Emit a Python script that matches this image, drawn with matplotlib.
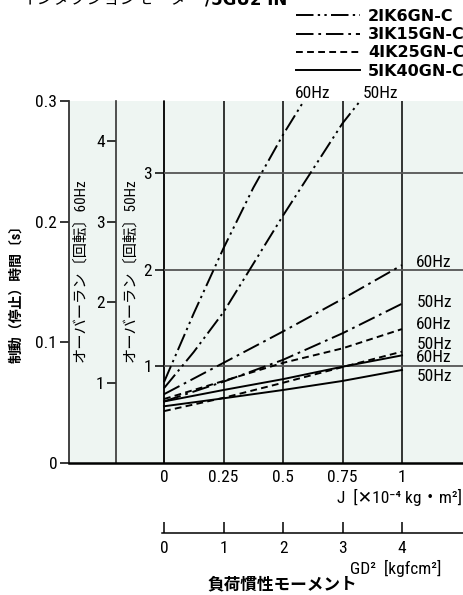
import matplotlib
matplotlib.use('Agg')
from matplotlib import pyplot as plt
from matplotlib import font_manager as fm

# pick a condensed sans if one is installed
fonts = fm.fontManager.ttflist
names = {f.name for f in fonts}
stretch = 'normal'
if 'Liberation Sans Narrow' in names:
    base = 'Liberation Sans Narrow'
elif 'Roboto Condensed' in names:
    base = 'Roboto Condensed'
elif any(f.name == 'DejaVu Sans' and str(f.stretch) in ('condensed', 'semi-condensed') for f in fonts):
    base = 'DejaVu Sans'
    stretch = 'condensed'
else:
    base = 'Roboto'
plt.rcParams['font.family'] = [base, 'Noto Sans CJK JP', 'DejaVu Sans']
plt.rcParams['font.stretch'] = stretch

# axis ticks
J_ticks = [0, 0.25, 0.5, 0.75, 1]
J_ticklabels = ['0', '0.25', '0.5', '0.75', '1']
GD_ticks = [0, 1, 2, 3, 4]
GD_ticklabels = ['0', '1', '2', '3', '4']
t_ticks = [0, 0.1, 0.2, 0.3]
t_ticklabels = ['0', '0.1', '0.2', '0.3']
rev60_ticks = [1, 2, 3, 4]
rev50_ticks = [1, 2, 3]

# stop time [s] vs load inertia J [x1e-4 kg m2]
j_2ik6_60 = [0, 0.125, 0.25, 0.375, 0.5, 0.625]
t_2ik6_60 = [0.067, 0.124, 0.178, 0.228, 0.272, 0.312]
j_2ik6_50 = [0, 0.125, 0.25, 0.5, 0.75, 0.9]
t_2ik6_50 = [0.062, 0.092, 0.125, 0.205, 0.2815, 0.319]
j_std = [0, 0.25, 0.5, 0.75, 1]
t_3ik15_60 = [0.057, 0.083, 0.109, 0.136, 0.164]
t_3ik15_50 = [0.051, 0.0674, 0.0855, 0.1075, 0.132]
t_4ik25_60 = [0.053, 0.068, 0.083, 0.095, 0.111]
t_4ik25_50 = [0.043, 0.054, 0.0665, 0.0795, 0.0923]
t_5ik40_60 = [0.051, 0.0605, 0.0695, 0.0798, 0.0892]
t_5ik40_50 = [0.047, 0.0536, 0.0605, 0.068, 0.0771]

models = ['2IK6GN-C', '3IK15GN-C', '4IK25GN-C', '5IK40GN-C']
styles = {
    '2IK6GN-C': (0, (9, 2.2, 1.2, 2.2, 1.2, 2.2)),
    '3IK15GN-C': (0, (9, 2.5, 1.4, 2.5)),
    '4IK25GN-C': (0, (3.5, 2.2)),
    '5IK40GN-C': '-',
}

# right side frequency labels: (text, y in s)
right_labels = [('60Hz', 0.1665), ('50Hz', 0.133), ('60Hz', 0.1148), ('50Hz', 0.0985),
                ('60Hz', 0.0875), ('50Hz', 0.0716)]

W, H = 464, 595
fs = 12.5
fig = plt.figure(figsize=(W / 100, H / 100), dpi=100)
ax = fig.add_axes([69 / W, 1 - 463 / H, 395 / W, 362 / H])
xmin, xmax = -95 / 238, 300 / 238
ax.set_xlim(xmin, xmax)
ax.set_ylim(0, 0.3)
ax.set_facecolor('#eef5f2')
for s in ['top', 'right']:
    ax.spines[s].set_visible(False)
ax.spines['left'].set_linewidth(1.3)
ax.spines['left'].set_color('#333333')
ax.spines['bottom'].set_linewidth(1.8)

ax.set_yticks(t_ticks)
ax.set_yticklabels(t_ticklabels)
ax.set_xticks(J_ticks)
ax.set_xticklabels(J_ticklabels)
ax.tick_params(axis='y', length=6.5, width=1.1, labelsize=fs, pad=2)
ax.tick_params(axis='x', length=0, labelsize=fs, pad=5)

# grid
ax.vlines(J_ticks, 0, 0.3, color='black', lw=1.1, zorder=1)
ax.hlines([r / 12.5 for r in rev50_ticks], 0, xmax, color='#555555', lw=1.3, zorder=1)

# overrun axes
def frac(j):
    return (j - xmin) / (xmax - xmin)

sec60 = ax.secondary_yaxis(frac(-0.2), functions=(lambda t: t * 15, lambda r: r / 15))
sec50 = ax.secondary_yaxis(frac(0), functions=(lambda t: t * 12.5, lambda r: r / 12.5))
for sec, ticks in [(sec60, rev60_ticks), (sec50, rev50_ticks)]:
    sec.set_yticks(ticks)
    sec.set_yticklabels([str(v) for v in ticks])
    sec.tick_params(length=6.5, width=1.1, labelsize=fs, pad=2)
    sec.spines['left'].set_linewidth(1.2)
    sec.spines['left'].set_color('#333333')

ax.text(-0.353, 0.16, 'オーバーラン〔回転〕60Hz', rotation=90, ha='center', va='center', fontsize=11)
ax.text(-0.143, 0.16, 'オーバーラン〔回転〕50Hz', rotation=90, ha='center', va='center', fontsize=11)

ax.set_ylabel('制動（停止）時間〔s〕', fontsize=10, fontweight='bold')
ax.yaxis.set_label_coords(-0.117, 0.478)

# curves
lw = 1.4
h1, = ax.plot(j_2ik6_60, t_2ik6_60, color='black', lw=lw, linestyle=styles['2IK6GN-C'], label=models[0])
ax.plot(j_2ik6_50, t_2ik6_50, color='black', lw=lw, linestyle=styles['2IK6GN-C'])
h2, = ax.plot(j_std, t_3ik15_60, color='black', lw=lw, linestyle=styles['3IK15GN-C'], label=models[1])
ax.plot(j_std, t_3ik15_50, color='black', lw=lw, linestyle=styles['3IK15GN-C'])
h3, = ax.plot(j_std, t_4ik25_60, color='black', lw=lw, linestyle=styles['4IK25GN-C'], label=models[2])
ax.plot(j_std, t_4ik25_50, color='black', lw=lw, linestyle=styles['4IK25GN-C'])
h4, = ax.plot(j_std, t_5ik40_60, color='black', lw=lw, linestyle=styles['5IK40GN-C'], label=models[3])
ax.plot(j_std, t_5ik40_50, color='black', lw=lw, linestyle=styles['5IK40GN-C'])

for txt, y in right_labels:
    ax.text(1.06, y, txt, fontsize=fs, va='center', ha='left')
ax.text(0.624, 0.3066, '60Hz', fontsize=fs, ha='center', va='center', clip_on=False)
ax.text(0.908, 0.3066, '50Hz', fontsize=fs, ha='center', va='center', clip_on=False)

fig.legend(handles=[h1, h2, h3, h4], loc='upper right', bbox_to_anchor=(465 / W, 1 - 9 / H),
           frameon=False, handlelength=4.0, handletextpad=0.5, labelspacing=0.2, borderpad=0,
           borderaxespad=0, prop=dict(family='DejaVu Sans', weight='bold', size=11.5))

# GD2 axis
axg = fig.add_axes([69 / W, 1 - 533 / H, 395 / W, 0.001])
axg.set_xlim(xmin * 4, xmax * 4)
axg.patch.set_visible(False)
for s in ['top', 'right', 'left']:
    axg.spines[s].set_visible(False)
axg.spines['bottom'].set_bounds(-0.03, xmax * 4)
axg.spines['bottom'].set_linewidth(1.1)
axg.set_yticks([])
axg.set_xticks(GD_ticks)
axg.set_xticklabels(GD_ticklabels)
axg.tick_params(axis='x', direction='in', length=8, width=1.1, labelsize=fs, pad=6)

fig.text(462 / W, 1 - 497 / H, 'J  [✕10⁻⁴ kg・m²]', ha='right', va='center', fontsize=12.5)
fig.text(441 / W, 1 - 568 / H, 'GD²  [kgfcm²]', ha='right', va='center', fontsize=12.5)
fig.text(282 / W, 1 - 585 / H, '負荷慣性モーメント', ha='center', va='center', fontsize=12, fontweight='bold')

fig.text(203 / W, 1 - 4 / H, 'インダクションモーター', ha='right', va='baseline', fontsize=12)
fig.text(205 / W, 1 - 4 / H, '/5GU2 IN', ha='left', va='baseline', fontsize=12,
         family='DejaVu Sans', fontweight='bold')

fig.savefig('out.png', dpi=100)
